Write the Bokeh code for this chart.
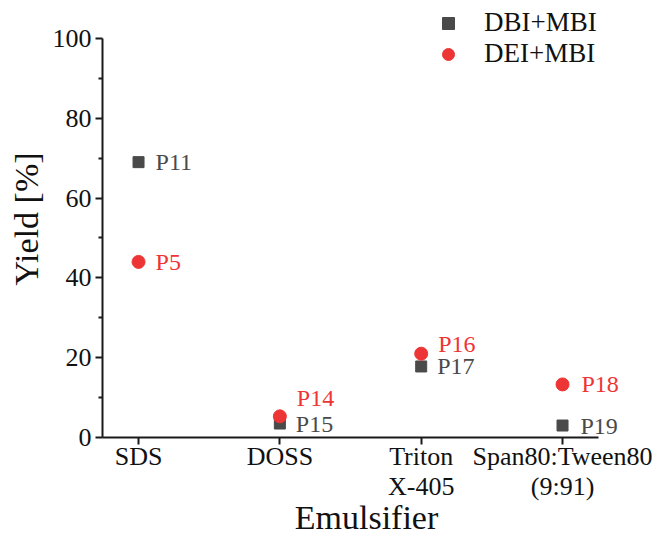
from bokeh.plotting import figure
from bokeh.models import FixedTicker, Range1d, Legend, LegendItem, ColumnDataSource, LinearAxis
from bokeh.core.properties import value
from bokeh.embed import file_html
from bokeh.resources import INLINE

categories_line1 = ["SDS", "DOSS", "Triton", "Span80:Tween80"]
categories_line2 = ["", "", "X-405", "(9:91)"]
cat_pos = [1, 2, 3, 4]
dbi_mbi = [69, 3.5, 17.8, 3.0]
dei_mbi = [44, 5.3, 21.0, 13.3]
dbi_labels = ["P11", "P15", "P17", "P19"]
dei_labels = ["P5", "P14", "P16", "P18"]
y_ticks = [0, 20, 40, 60, 80, 100]
y_minor = [10, 30, 50, 70, 90]

# label offsets (screen pixels; styling only)
dbi_dx = [17, 16, 16, 18]
dbi_dy = [0, 0, 0, 0]
dei_dx = [17, 17, 17, 19]
dei_dy = [0, -18, -10, 0]

FONT = "Liberation Serif"
GRAY = "#4a4a4a"
RED = "#ee3535"
INK = "#111111"

p = figure(width=658, height=538, output_backend="svg", toolbar_location=None,
           x_range=Range1d(0.745, 4.481), y_range=Range1d(0, 109.5),
           min_border_left=102, min_border_top=0, min_border_bottom=101, min_border_right=28)
p.outline_line_color = None
p.xgrid.visible = False
p.ygrid.visible = False
p.background_fill_color = "white"

src_b = ColumnDataSource(dict(x=cat_pos, y=dbi_mbi, t=dbi_labels, dx=dbi_dx, dy=dbi_dy))
src_r = ColumnDataSource(dict(x=cat_pos, y=dei_mbi, t=dei_labels, dx=dei_dx, dy=dei_dy))

rb = p.scatter("x", "y", source=src_b, marker="square", size=11, fill_color=GRAY, line_color=GRAY)
rr = p.scatter("x", "y", source=src_r, marker="circle", size=13, fill_color=RED, line_color=RED)

p.text("x", "y", text="t", source=src_b, x_offset="dx", y_offset="dy",
       text_font=value(FONT), text_font_size="24px", text_color=GRAY,
       text_baseline="middle", text_align="left")
p.text("x", "y", text="t", source=src_r, x_offset="dx", y_offset="dy",
       text_font=value(FONT), text_font_size="24px", text_color=RED,
       text_baseline="middle", text_align="left")

# axes
xa = p.xaxis[0]
xa.ticker = FixedTicker(ticks=cat_pos)
xa.major_label_overrides = {c: l for c, l in zip(cat_pos, categories_line1)}
xa.bounds = (0.745, 4.255)
ya = p.yaxis[0]
ya.ticker = FixedTicker(ticks=y_ticks, minor_ticks=y_minor)
ya.bounds = (0, 100)
ya.axis_label = "Yield [%]"

for ax in (xa, ya):
    ax.axis_line_width = 2
    ax.axis_line_color = "#1a1a1a"
    ax.major_tick_line_width = 2
    ax.major_tick_line_color = "#1a1a1a"
    ax.minor_tick_line_width = 2
    ax.minor_tick_line_color = "#1a1a1a"
    ax.major_tick_out = 7
    ax.major_tick_in = 0
    ax.minor_tick_out = 4
    ax.minor_tick_in = 0
    ax.major_label_text_font = FONT
    ax.major_label_text_font_size = "26px"
    ax.major_label_text_color = INK
    ax.axis_label_text_font = FONT
    ax.axis_label_text_font_size = "34px"
    ax.axis_label_text_font_style = "normal"
    ax.axis_label_text_color = INK
xa.minor_tick_out = 0
xa.major_label_standoff = -3
ya.major_label_standoff = 4
ya.axis_label_standoff = 5

# second line of category labels + axis title on a second, line-less axis
xa2 = LinearAxis(ticker=FixedTicker(ticks=cat_pos),
                 major_label_overrides={c: l for c, l in zip(cat_pos, categories_line2)},
                 axis_line_color=None, major_tick_line_color=None, minor_tick_line_color=None,
                 major_tick_out=0, major_tick_in=0, minor_tick_out=0, minor_tick_in=0,
                 major_label_standoff=-2, major_label_text_font=FONT,
                 major_label_text_font_size="26px", major_label_text_color=INK,
                 axis_label="Emulsifier", axis_label_standoff=-5, axis_label_text_font=FONT,
                 axis_label_text_font_size="34px", axis_label_text_font_style="normal",
                 axis_label_text_color=INK)
p.add_layout(xa2, "below")

legend = Legend(items=[LegendItem(label="DBI+MBI", renderers=[rb]),
                       LegendItem(label="DEI+MBI", renderers=[rr])],
                location=(331, 368))
legend.border_line_color = None
legend.background_fill_alpha = 0
legend.padding = 0
legend.margin = 0
legend.spacing = 0
legend.glyph_width = 30
legend.glyph_height = 30
legend.label_height = 30
legend.label_standoff = 21
legend.label_text_font = FONT
legend.label_text_font_size = "27px"
legend.label_text_color = INK
p.add_layout(legend, "center")

open("out.html", "w").write(file_html(p, INLINE))
